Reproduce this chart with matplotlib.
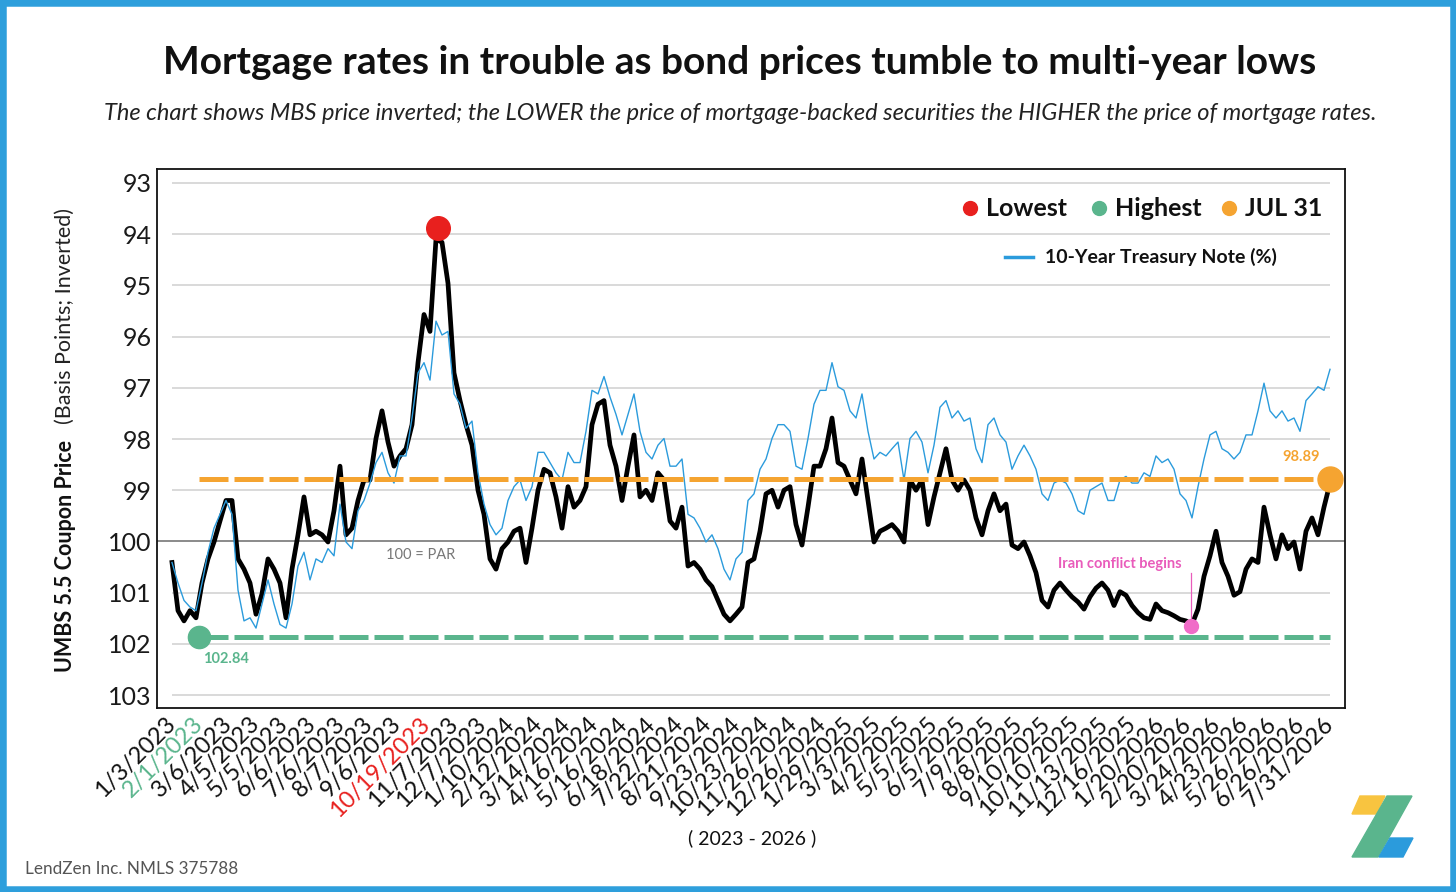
import numpy as np
import matplotlib.pyplot as plt
from matplotlib.patches import Rectangle, Polygon
from matplotlib.lines import Line2D

W, H = 1456, 892

tick_labels = [
    "1/3/2023", "2/1/2023", "3/6/2023", "4/5/2023", "5/5/2023", "6/6/2023",
    "7/6/2023", "8/7/2023", "9/6/2023", "10/19/2023", "11/7/2023", "12/7/2023",
    "1/10/2024", "2/12/2024", "3/14/2024", "4/16/2024", "5/16/2024", "6/18/2024",
    "7/22/2024", "8/21/2024", "9/23/2024", "10/23/2024", "11/26/2024", "12/26/2024",
    "1/29/2025", "3/3/2025", "4/2/2025", "5/5/2025", "6/5/2025", "7/9/2025",
    "8/8/2025", "9/10/2025", "10/10/2025", "11/13/2025", "12/16/2025", "1/20/2026",
    "2/20/2026", "3/24/2026", "4/23/2026", "5/26/2026", "6/26/2026", "7/31/2026",
]

# UMBS 5.5 coupon price (black line)
mbs_price = [
    100.41, 101.35, 101.55, 101.35, 101.49, 100.81, 100.34, 100.01, 99.60, 99.20,
    99.20, 100.34, 100.54, 100.81, 101.42, 101.02, 100.34, 100.54, 100.81, 101.49,
    100.54, 99.87, 99.13, 99.87, 99.80, 99.87, 100.01, 99.40, 98.53, 99.87,
    99.74, 99.20, 98.80, 98.80, 97.99, 97.45, 98.06, 98.53, 98.33, 98.19,
    97.72, 96.51, 95.57, 95.90, 94.10, 94.16, 94.96, 96.71, 97.25, 97.72,
    98.12, 99.00, 99.47, 100.34, 100.54, 100.14, 100.01, 99.80, 99.74, 100.41,
    99.74, 99.00, 98.59, 98.66, 99.13, 99.74, 98.93, 99.33, 99.20, 98.93,
    97.72, 97.32, 97.25, 98.12, 98.53, 99.20, 98.53, 97.92, 99.13, 99.00,
    99.20, 98.66, 98.80, 99.60, 99.74, 99.33, 100.48, 100.41, 100.54, 100.75,
    100.88, 101.15, 101.42, 101.55, 101.42, 101.28, 100.41, 100.34, 99.80, 99.07,
    99.00, 99.33, 99.00, 98.93, 99.67, 100.07, 99.33, 98.53, 98.53, 98.19,
    97.59, 98.46, 98.53, 98.80, 99.07, 98.39, 99.20, 100.01, 99.80, 99.74,
    99.67, 99.80, 100.01, 98.80, 99.00, 98.80, 99.67, 99.13, 98.66, 98.19,
    98.80, 99.00, 98.80, 99.00, 99.54, 99.87, 99.40, 99.07, 99.40, 99.27,
    100.07, 100.14, 100.01, 100.28, 100.61, 101.15, 101.28, 100.95, 100.81, 100.95,
    101.08, 101.18, 101.32, 101.08, 100.91, 100.81, 100.95, 101.25, 100.98, 101.05,
    101.25, 101.39, 101.49, 101.52, 101.22, 101.35, 101.39, 101.45, 101.52, 101.55,
    101.62, 101.32, 100.68, 100.28, 99.80, 100.41, 100.68, 101.05, 100.98, 100.54,
    100.34, 100.41, 99.33, 99.87, 100.34, 99.87, 100.14, 100.01, 100.54, 99.80,
    99.54, 99.87, 99.33, 98.86,
]

# 10-year treasury note, plotted on the same inverted price scale
treasury_scaled = [
    100.41, 100.81, 101.15, 101.28, 101.35, 100.81, 100.21, 99.74, 99.47, 99.20,
    99.47, 100.95, 101.55, 101.49, 101.69, 101.22, 100.75, 101.22, 101.62, 101.69,
    101.22, 100.48, 100.21, 100.75, 100.34, 100.41, 100.14, 100.28, 99.27, 100.01,
    100.14, 99.40, 99.20, 98.86, 98.46, 98.26, 98.66, 98.86, 98.33, 98.33,
    97.59, 96.71, 96.51, 96.85, 95.70, 95.97, 95.90, 97.12, 97.32, 97.79,
    97.65, 98.66, 99.27, 99.67, 99.87, 99.74, 99.20, 98.93, 98.80, 99.20,
    98.93, 98.26, 98.26, 98.46, 98.66, 98.80, 98.26, 98.46, 98.46, 97.85,
    97.05, 97.12, 96.78, 97.18, 97.52, 97.92, 97.52, 97.12, 97.85, 98.26,
    98.39, 98.12, 97.99, 98.53, 98.53, 98.39, 99.47, 99.54, 99.74, 100.01,
    99.87, 100.14, 100.54, 100.75, 100.34, 100.21, 99.20, 99.07, 98.59, 98.39,
    97.99, 97.72, 97.72, 97.85, 98.53, 98.59, 97.99, 97.32, 97.05, 97.05,
    96.51, 96.98, 97.05, 97.45, 97.59, 97.12, 97.85, 98.39, 98.26, 98.33,
    98.19, 98.06, 98.80, 97.99, 97.85, 98.06, 98.66, 98.12, 97.38, 97.25,
    97.59, 97.45, 97.65, 97.59, 98.19, 98.46, 97.72, 97.59, 97.92, 98.06,
    98.59, 98.33, 98.12, 98.33, 98.59, 99.07, 99.20, 98.86, 98.80, 98.86,
    99.07, 99.40, 99.47, 99.00, 98.93, 98.86, 99.20, 99.20, 98.80, 98.73,
    98.86, 98.86, 98.66, 98.73, 98.33, 98.46, 98.39, 98.59, 99.07, 99.20,
    99.54, 98.93, 98.39, 97.92, 97.85, 98.19, 98.26, 98.39, 98.26, 97.92,
    97.92, 97.45, 96.91, 97.45, 97.59, 97.45, 97.65, 97.59, 97.85, 97.25,
    97.12, 96.98, 97.05, 96.64,
]

# highlighted points (index along the series, price)
lowest_idx, lowest_val = 44.3, 93.89
highest_idx, highest_val = 4.55, 101.87
latest_idx, latest_val = 193, 98.78
iran_idx, iran_val = 169.8, 101.65
highest_text = "102.84"
latest_text = "98.89"

RED = "#E8201E"
GREEN = "#5AB58D"
ORANGE = "#F5A431"
BLUE = "#2B9BDC"
PINK = "#E95CBB"
FONT = "Lato"


def fx(x):
    return x / W


def fy(y):
    return 1 - y / H


fig = plt.figure(figsize=(W / 100, H / 100), dpi=100)
fig.patch.set_facecolor("white")
ax = fig.add_axes([fx(157), fy(708), fx(1345) - fx(157), fy(169) - fy(708)])

n = len(mbs_price)
x = np.arange(n)

# grid only over the data span, PAR line over the whole box
for v in range(93, 104):
    if v != 100:
        ax.hlines(v, 0, n - 1, color="#cfcfcf", lw=1.1, zorder=1)
ax.axhline(100, color="#8a8a8a", lw=1.4, zorder=1.5)

ax.plot(x, mbs_price, color="black", lw=3.4, solid_joinstyle="round", zorder=3)
ax.plot(x, treasury_scaled, color=BLUE, lw=1.0, zorder=4)

ax.hlines(latest_val, highest_idx, latest_idx, color=ORANGE, lw=3.6,
          linestyles=(0, (5.8, 1.2)), zorder=5)
ax.hlines(highest_val, highest_idx, n - 1, color=GREEN, lw=3.6,
          linestyles=(0, (5.8, 1.2)), zorder=5)

ax.plot(lowest_idx, lowest_val, "o", ms=17, color=RED, zorder=6)
ax.plot(highest_idx, highest_val, "o", ms=16, color=GREEN, zorder=6)
ax.plot(latest_idx, latest_val, "o", ms=18, color=ORANGE, zorder=6, clip_on=False)
ax.plot(iran_idx, iran_val, "o", ms=10, color="#F06CC8", zorder=6)
ax.plot([iran_idx, iran_idx], [iran_val - 0.12, 100.62], color=PINK, lw=0.9, zorder=5)

ax.text(highest_idx + 4.5, highest_val + 0.42, highest_text, color=GREEN,
        fontsize=10.5, fontweight="bold", family=FONT, ha="center", va="center")
ax.text(latest_idx - 4.8, latest_val - 0.42, latest_text, color=ORANGE,
        fontsize=10.5, fontweight="bold", family=FONT, ha="center", va="center")
ax.text(41.5, 100.26, "100 = PAR", color="#777777", fontsize=10.5,
        family=FONT, ha="center", va="center")
ax.text(158, 100.43, "Iran conflict begins", color=PINK, fontsize=10.5,
        fontweight="bold", family=FONT, ha="center", va="center")

ax.set_xlim(-2.5, 195.5)
ax.set_ylim(103.25, 92.73)
ax.set_yticks(range(93, 104))
ax.set_yticklabels([str(v) for v in range(93, 104)], fontsize=18,
                   family=FONT, color="#1a1a1a")
ax.set_xticks(np.linspace(0, n - 1, len(tick_labels)))
ax.set_xticklabels(tick_labels, rotation=45, ha="right", va="center",
                   rotation_mode="anchor", fontsize=17, family=FONT, color="#111111")
ax.get_xticklabels()[1].set_color(GREEN)
ax.get_xticklabels()[9].set_color(RED)
ax.tick_params(axis="both", length=0)
ax.tick_params(axis="y", pad=4)
ax.tick_params(axis="x", pad=9)
for s in ax.spines.values():
    s.set_color("#111111")
    s.set_linewidth(1.3)

# legend drawn by hand
legend_items = [(970, RED, "Lowest"), (1099, GREEN, "Highest"), (1229, ORANGE, "JUL 31")]
for lx, c, t in legend_items:
    fig.add_artist(Line2D([fx(lx)], [fy(208)], marker="o", ms=10, color=c,
                          transform=fig.transFigure))
    fig.text(fx(lx + 16), fy(208), t, fontsize=18, fontweight="bold",
             family=FONT, va="center", ha="left", color="#111111")
fig.add_artist(Line2D([fx(1005), fx(1033)], [fy(257), fy(257)], color=BLUE, lw=2.5,
                      transform=fig.transFigure))
fig.text(fx(1045), fy(257), "10-Year Treasury Note (%)", fontsize=14,
         fontweight="bold", family=FONT, va="center", ha="left", color="#111111")

# titles and labels
fig.text(fx(740), fy(62), "Mortgage rates in trouble as bond prices tumble to multi-year lows",
         fontsize=28, fontweight="bold", family=FONT, ha="center", va="center",
         color="#111111")
fig.text(fx(740), fy(113),
         "The chart shows MBS price inverted; the LOWER the price of mortgage-backed "
         "securities the HIGHER the price of mortgage rates.",
         fontsize=17, style="italic", family=FONT, ha="center", va="center",
         color="#222222")
fig.text(fx(65), fy(556), "UMBS 5.5 Coupon Price", rotation=90, fontsize=15.5,
         fontweight="bold", family=FONT, ha="center", va="center", color="#111111")
fig.text(fx(65), fy(316), "(Basis Points; Inverted)", rotation=90, fontsize=15.5,
         family=FONT, ha="center", va="center", color="#222222")
fig.text(fx(752), fy(838), "( 2023 - 2026 )", fontsize=14, family=FONT,
         ha="center", va="center", color="#111111")
fig.text(fx(25), fy(869), "LendZen Inc. NMLS 375788", fontsize=12.3, family=FONT,
         ha="left", va="center", color="#555555")

# logo
logo = [
    ([(1360, 796), (1385, 796), (1376, 814), (1352, 814)], "#F8C440"),
    ([(1387, 796), (1412, 796), (1378, 857), (1352, 857)], "#5AB58D"),
    ([(1390, 838), (1413, 838), (1403, 857), (1379, 857)], "#2B9BDC"),
]
for pts, c in logo:
    fig.add_artist(Polygon([(fx(a), fy(b)) for a, b in pts], closed=True,
                           color=c, transform=fig.transFigure))

# outer frame
fig.add_artist(Rectangle((0, 0), 1, 1, fill=False, ec="#2E9FDC", lw=9,
                         transform=fig.transFigure))

fig.savefig("out.png", dpi=100)
